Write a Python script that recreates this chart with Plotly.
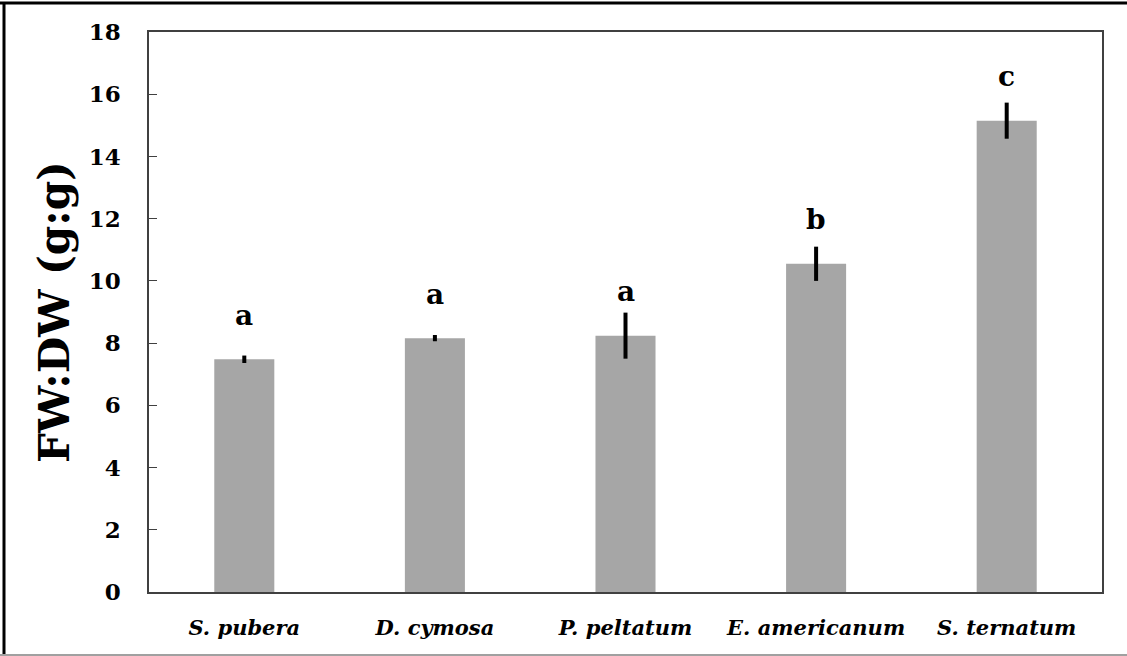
import plotly.graph_objects as go

species = ["S. pubera", "D. cymosa", "P. peltatum", "E. americanum", "S. ternatum"]
ratio = [7.48, 8.16, 8.24, 10.55, 15.15]
err = [0.12, 0.10, 0.74, 0.55, 0.58]
letters = ["a", "a", "a", "b", "c"]
y_ticks = [0, 2, 4, 6, 8, 10, 12, 14, 16, 18]

FONT = "DejaVu Serif"

fig = go.Figure()
fig.add_trace(go.Bar(
    x=species, y=ratio,
    marker=dict(color="#A6A6A6", line=dict(width=0)),
    error_y=dict(type="data", array=err, visible=True, color="black", thickness=4, width=0),
    width=0.315,
))

for s, v, l in zip(species, ratio, letters):
    fig.add_annotation(x=s, y=v, text=l, showarrow=False, yshift=44, yanchor="middle",
                       font=dict(family=FONT, size=28, color="black", weight="bold"))

fig.update_layout(
    width=1127, height=656,
    margin=dict(l=149, r=25, t=32, b=64),
    paper_bgcolor="white", plot_bgcolor="white",
    showlegend=False,
    xaxis=dict(showline=True, linecolor="#404040", linewidth=1.5, mirror=True,
               ticks="", tickfont=dict(family=FONT, size=21, color="black", style="italic", weight="bold"),
               ticklabelstandoff=16),
    yaxis=dict(range=[0, 18], tickvals=y_ticks, showline=True, linecolor="#404040", linewidth=1.5,
               mirror=True, ticks="inside", ticklen=8, tickcolor="#404040", showgrid=False, zeroline=False,
               tickfont=dict(family=FONT, size=23, color="black", weight="bold"),
               ticklabelstandoff=22,
               title=dict(text="FW:DW (g:g)", font=dict(family=FONT, size=42, color="black", weight="bold"),
                          standoff=6)),
    shapes=[
        dict(type="line", xref="paper", yref="paper", x0=-149/953, x1=1 + 25/953, y0=1 + 29/560, y1=1 + 29/560,
             line=dict(color="black", width=3)),
        dict(type="line", xref="paper", yref="paper", x0=-145/953, x1=-145/953, y0=-63/560, y1=1 + 29/560,
             line=dict(color="black", width=3)),
        dict(type="line", xref="paper", yref="paper", x0=-149/953, x1=1 + 25/953, y0=-63/560, y1=-63/560,
             line=dict(color="#A0A0A0", width=2)),
    ],
)

fig.write_html("out.html")
